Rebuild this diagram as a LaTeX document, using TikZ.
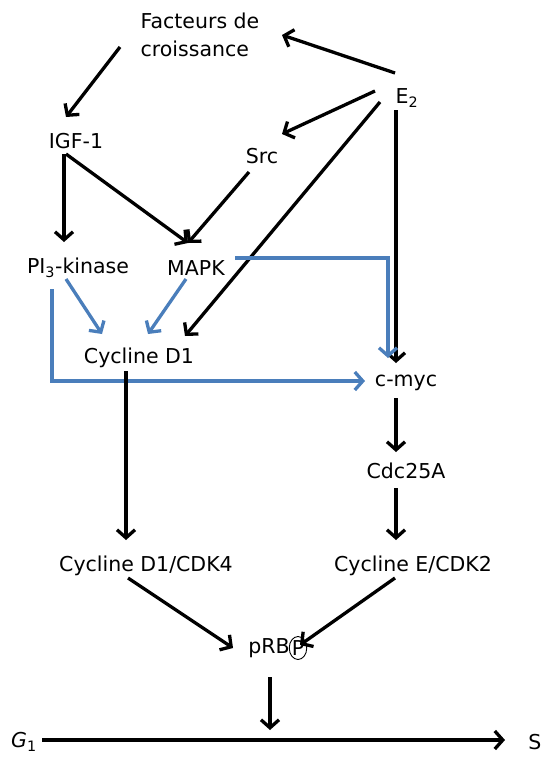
\documentclass[tikz,border=0pt]{standalone}
\usepackage{fontspec}
\setmainfont{DejaVu Sans}
\usetikzlibrary{arrows.meta,shapes.geometric}
\definecolor{arrblue}{HTML}{4A7EBB}
\begin{document}
\begin{tikzpicture}[x=1pt,y=-1pt,
  lbl/.style={inner sep=0pt,font=\fontsize{20.5}{28}\selectfont},
  blk/.style={draw=black,line width=3.3pt,-{Straight Barb[length=8pt,width=18pt]}},
  blu/.style={draw=arrblue,color=arrblue,line width=3.3pt,-{Straight Barb[length=8pt,width=18pt]}}]
\useasboundingbox (0,0) rectangle (543,758);
\node[lbl,align=left] (fc) at (200,35) {Facteurs de\\croissance};
\node[lbl] (e2) at (407,98) {E\textsubscript{2}};
\node[lbl] (igf) at (76,141) {IGF-1};
\node[lbl] (src) at (262,156) {Src};
\node[lbl] (pi3) at (78,268) {PI\textsubscript{3}-kinase};
\node[lbl] (mapk) at (196,268) {MAPK};
\node[lbl] (cd1) at (139,358) {Cycline D1};
\node[lbl] (cmyc) at (406,383) {c-myc};
\node[lbl] (cdc) at (406,471) {Cdc25A};
\node[lbl] (cdk4) at (146,566) {Cycline D1/CDK4};
\node[lbl] (cdk2) at (413,566) {Cycline E/CDK2};
\node[lbl] (prb) at (269,648) {pRB};
\node[lbl,ellipse,draw,line width=0.9pt,minimum width=15pt,minimum height=23pt] (pp) at (298,648) {P};
\node[lbl] (g1) at (24,742) {\textit{G}\textsubscript{1}};
\node[lbl] (s) at (535,742) {S};
\coordinate (mid) at (270,740);

\draw[blk] ([shift={(-80,12)}]fc.center) -- ([shift={(-10,-24)}]igf.center);
\draw[blk] ([shift={(-12,-25)}]e2.center) -- ([shift={(82,0)}]fc.center);
\draw[blk] ([shift={(-32,-7)}]e2.center) -- ([shift={(20,-22)}]src.center);
\draw[blk] ([shift={(-27,4)}]e2.center) -- ([shift={(46,-22)}]cd1.center);
\draw[blk] ([shift={(-11,12)}]e2.center) -- ([shift={(-10,-20)}]cmyc.center);
\draw[blk] ([shift={(-12,13)}]igf.center) -- ([shift={(-14,-26)}]pi3.center);
\draw[blk] ([shift={(-10,13)}]igf.center) -- ([shift={(-8,-25)}]mapk.center);
\draw[blk] ([shift={(-13,16)}]src.center) -- ([shift={(-8,-25)}]mapk.center);
\draw[blu] ([shift={(39,-10)}]mapk.center) -| ([shift={(-18,-25)}]cmyc.center);
\draw[blu] ([shift={(-12,11)}]pi3.center) -- ([shift={(-37,-24)}]cd1.center);
\draw[blu] ([shift={(-10,11)}]mapk.center) -- ([shift={(9,-24)}]cd1.center);
\draw[blu] ([shift={(-26,21)}]pi3.center) |- ([shift={(-41,-2)}]cmyc.center);
\draw[blk] ([shift={(-13,13)}]cd1.center) -- ([shift={(-20,-26)}]cdk4.center);
\draw[blk] ([shift={(-10,15)}]cmyc.center) -- ([shift={(-10,-19)}]cdc.center);
\draw[blk] ([shift={(-10,17)}]cdc.center) -- ([shift={(-17,-26)}]cdk2.center);
\draw[blk] ([shift={(-18,12)}]cdk4.center) -- ([shift={(-36,0)}]prb.center);
\draw[blk] ([shift={(-18,12)}]cdk2.center) -- ([shift={(2,-3)}]pp.center);
\draw[blk] ([shift={(1,29)}]prb.center) -- ([shift={(0,-10)}]mid);
\draw[blk] ([shift={(18,-2)}]g1.center) -- ([shift={(-30,-2)}]s.center);
\end{tikzpicture}
\end{document}
